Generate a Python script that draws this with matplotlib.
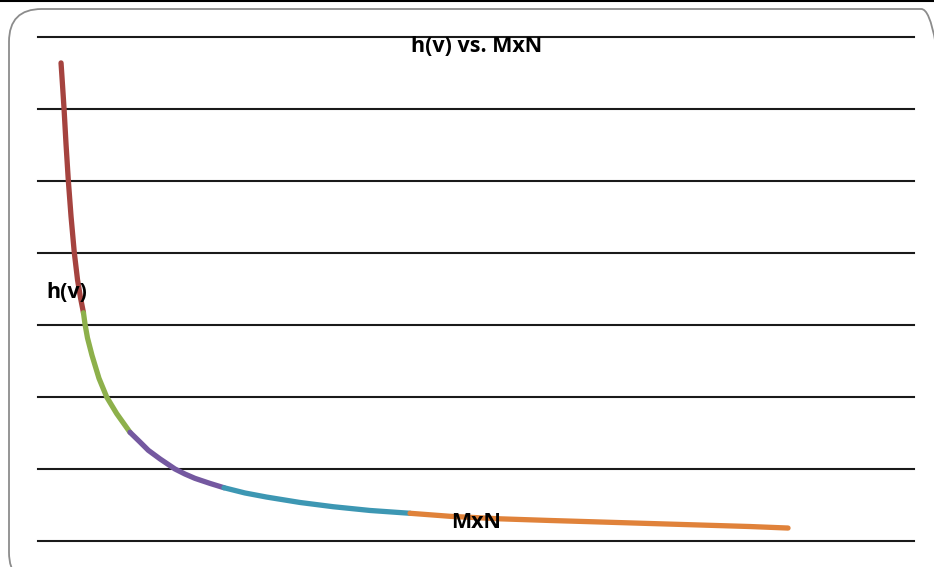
import matplotlib
matplotlib.use("Agg")
import matplotlib.pyplot as plt
from matplotlib.patches import FancyBboxPatch
from matplotlib.lines import Line2D

# ---- data ----
red_x = [26.3, 28.0, 29.7, 32.0, 34.6, 37.7, 41.4, 45.1, 48.5, 51.9]
red_y = [6.64, 6.33, 6.01, 5.51, 5.01, 4.51, 4.01, 3.63, 3.38, 3.17]
green_x = [51.9, 53.7, 56.5, 61.6, 69.6, 78.4, 89.8, 105.0]
green_y = [3.17, 3.01, 2.82, 2.58, 2.26, 2.00, 1.77, 1.51]
purple_x = [105.0, 116.4, 125.9, 139.3, 156.4, 167.8, 179.2, 196.3, 212.3]
purple_y = [1.51, 1.375, 1.26, 1.14, 1.00, 0.93, 0.87, 0.80, 0.74]
teal_x = [212.3, 236.3, 261.1, 299.1, 337.1, 379.0, 424.7]
teal_y = [0.74, 0.667, 0.61, 0.535, 0.476, 0.424, 0.385]
orange_x = [424.7, 470.3, 527.4, 584.5, 641.6, 698.6, 755.7, 812.8, 856.2]
orange_y = [0.385, 0.343, 0.308, 0.285, 0.264, 0.243, 0.222, 0.201, 0.18]
y_ticks = [0, 1, 2, 3, 4, 5, 6, 7]

series = [
    (red_x, red_y, "#A5433F"),
    (green_x, green_y, "#8DB04B"),
    (purple_x, purple_y, "#7458A0"),
    (teal_x, teal_y, "#3D97B3"),
    (orange_x, orange_y, "#E0823A"),
]

W, H = 934, 567
fig = plt.figure(figsize=(W / 100, H / 100), dpi=100)
fig.patch.set_facecolor("white")

# outer rounded frame
box = FancyBboxPatch((9 / W, (H - 585) / H), 945 / W, 576 / H,
                     boxstyle="round,pad=0,rounding_size=0.035",
                     transform=fig.transFigure, facecolor="none",
                     edgecolor="#8c8c8c", linewidth=1.3, mutation_aspect=W / H,
                     zorder=-1)
fig.patches.append(box)
fig.lines.append(Line2D([0, 1], [1 - 1 / H, 1 - 1 / H], transform=fig.transFigure,
                        color="black", linewidth=1.5))

ax = fig.add_axes([38 / W, (H - 541) / H, 876 / W, 504 / H])
ax.set_facecolor("none")
ax.set_xlim(0, 1000)
ax.set_ylim(0, 7)
for t in y_ticks:
    ax.axhline(t, color="#1a1a1a", linewidth=1.5, zorder=1, clip_on=False)
for sx, sy, c in series:
    ax.plot(sx, sy, color=c, linewidth=3.8, solid_capstyle="round",
            solid_joinstyle="round", zorder=3)

for s in ax.spines.values():
    s.set_visible(False)
ax.set_xticks([])
ax.set_yticks([])

fs = 15.5
fig.text(477 / W, 1 - 46 / H, "h(v) vs. MxN", ha="center", va="center",
         fontsize=fs, fontweight="bold", family="Open Sans", zorder=5)
fig.text(46 / W, 1 - 292 / H, "h(v)", ha="left", va="center",
         fontsize=fs, fontweight="bold", family="Open Sans", zorder=5)
fig.text(476 / W, 1 - 522 / H, "MxN", ha="center", va="center",
         fontsize=fs, fontweight="bold", family="Open Sans", zorder=5)

fig.savefig("out.png", dpi=100)
